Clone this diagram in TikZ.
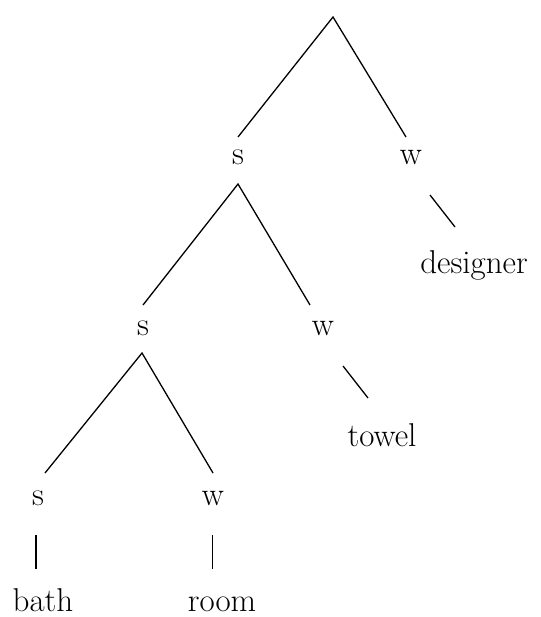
\documentclass[tikz,border=0pt]{standalone}
\begin{document}
\begin{tikzpicture}[x=1pt,y=-1pt,
  lab/.style={anchor=base,inner sep=0pt,font=\fontsize{33}{36}\selectfont},
  edge/.style={line width=1.3pt},
  thick edge/.style={line width=2pt}]
\useasboundingbox (0,0) rectangle (540,617);
% labels
\node[lab] (s1) at (238,165) {s};
\node[lab] (w1) at (411,165) {w};
\node[lab] (s2) at (143,335) {s};
\node[lab] (w2) at (323,335) {w};
\node[lab] (s3) at (38,505) {s};
\node[lab] (w3) at (213,505) {w};
\node[lab] (designer) at (474,273) {designer};
\node[lab] (towel) at (382,446) {towel};
\node[lab] (bath) at (43,611) {bath};
\node[lab] (room) at (222,611) {room};
% connector end points
\coordinate (r) at (333,17);
\coordinate (s1t) at (238,137);
\coordinate (w1t) at (406,137);
\coordinate (s1b) at (238,184);
\coordinate (s2t) at (143,305);
\coordinate (w2t) at (310,305);
\coordinate (w1b) at (430,195);
\coordinate (designert) at (455,227);
\coordinate (s2b) at (142,353);
\coordinate (s3t) at (45,473);
\coordinate (w3t) at (213,473);
\coordinate (w2b) at (343,366);
\coordinate (towelt) at (368,398);
\coordinate (s3b) at (36,535);
\coordinate (batht) at (36,569);
\coordinate (w3b) at (212,535);
\coordinate (roomt) at (212,569);
% connectors
\draw[edge] (s1t) -- (r) -- (w1t);
\draw[edge] (s2t) -- (s1b) -- (w2t);
\draw[edge] (s3t) -- (s2b) -- (w3t);
\draw[edge] (w1b) -- (designert);
\draw[edge] (w2b) -- (towelt);
\draw[thick edge] (s3b) -- (batht);
\draw[line width=1pt] (w3b) -- (roomt);
\end{tikzpicture}
\end{document}
